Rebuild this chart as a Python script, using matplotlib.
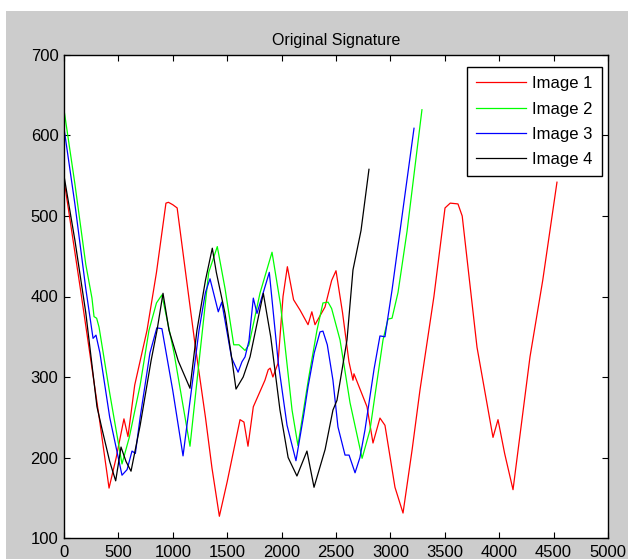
import matplotlib
matplotlib.use("Agg")
import matplotlib.pyplot as plt
from matplotlib.patches import Rectangle

plt.rcParams['font.family'] = ['Liberation Sans', 'DejaVu Sans']

# ---- data ----
img1_x = [0, 150, 322, 414, 480, 551, 588, 650, 763, 850, 937, 960, 1000, 1040, 1127, 1200,
          1300, 1360, 1428, 1500, 1618, 1654, 1691, 1740, 1847, 1877, 1895, 1920, 1967, 2013,
          2053, 2110, 2170, 2243, 2278, 2307, 2399, 2460, 2500, 2560, 2619, 2656, 2665, 2785,
          2840, 2904, 2950, 3042, 3116, 3200, 3272, 3400, 3502, 3550, 3621, 3660, 3796, 3943,
          3989, 4050, 4127, 4283, 4400, 4531]
img1_y = [545, 410, 251, 162, 200, 248, 226, 290, 358, 430, 516, 517, 514, 510, 420, 345,
          250, 187, 127, 170, 247, 244, 214, 263, 296, 309, 311, 300, 317, 400,
          437, 396, 383, 365, 381, 365, 387, 420, 432, 380, 319, 296, 304, 263,
          218, 249, 240, 163, 131, 210, 284, 400, 510, 516, 515, 500, 337, 225,
          247, 205, 160, 325, 420, 542]

img2_x = [0, 100, 200, 257, 276, 300, 322, 420, 533, 600, 700, 781, 850, 900, 1011, 1158,
          1250, 1330, 1409, 1480, 1560, 1608, 1664, 1700, 1801, 1912, 1990, 2096, 2150, 2250,
          2325, 2380, 2427, 2460, 2537, 2629, 2740, 2812, 2932, 2978, 3015, 3070, 3153, 3290]
img2_y = [632, 540, 440, 398, 375, 373, 362, 280, 192, 225, 290, 358, 392, 402, 330, 214,
          330, 430, 462, 410, 340, 340, 333, 340, 404, 455, 390, 259, 215, 300,
          358, 392, 393, 385, 346, 268, 199, 234, 346, 372, 373, 405, 481, 632]

img3_x = [0, 100, 200, 267, 294, 330, 420, 533, 580, 625, 656, 700, 790, 853, 900, 1000,
          1094, 1241, 1300, 1342, 1418, 1450, 1540, 1600, 1636, 1664, 1700, 1740, 1774, 1887,
          1970, 2050, 2132, 2200, 2243, 2300, 2353, 2380, 2420, 2472, 2518, 2583, 2620, 2675,
          2720, 2766, 2850, 2904, 2950, 3015, 3088, 3217]
img3_y = [609, 515, 410, 348, 352, 330, 250, 178, 185, 208, 205, 250, 330, 361, 360, 283,
          202, 358, 405, 422, 381, 393, 324, 306, 319, 325, 345, 398, 379, 430,
          317, 240, 196, 250, 288, 330, 356, 357, 340, 296, 238, 203, 203, 181,
          200, 234, 310, 351, 350, 408, 481, 609]

img4_x = [0, 100, 200, 303, 350, 420, 475, 524, 570, 616, 700, 800, 855, 910, 965, 1050,
          1158, 1222, 1300, 1363, 1400, 1480, 1541, 1581, 1647, 1710, 1832, 1900, 1985, 2060,
          2141, 2233, 2298, 2400, 2472, 2509, 2601, 2656, 2730, 2803]
img4_y = [550, 470, 380, 263, 235, 195, 171, 213, 195, 183, 240, 320, 358, 404, 358, 320,
          286, 358, 420, 460, 430, 379, 324, 285, 300, 325, 404, 350, 259, 200,
          177, 208, 163, 210, 259, 271, 346, 433, 482, 558]

series = [("Image 1", img1_x, img1_y, "#ff0000"),
          ("Image 2", img2_x, img2_y, "#00ff00"),
          ("Image 3", img3_x, img3_y, "#0000ff"),
          ("Image 4", img4_x, img4_y, "#000000")]

x_ticks = [0, 500, 1000, 1500, 2000, 2500, 3000, 3500, 4000, 4500, 5000]
y_ticks = [100, 200, 300, 400, 500, 600, 700]
title = "Original Signature"

# ---- figure ----
W, H = 628, 559
fig = plt.figure(figsize=(W / 100, H / 100), dpi=100, facecolor="white")
fig.patches.append(Rectangle((6 / W, 0), 1, 1 - 11 / H, transform=fig.transFigure,
                             facecolor="#cccccc", edgecolor="none", zorder=-10))

ax = fig.add_axes([64 / W, 1 - 538 / H, 544 / W, 483 / H])
ax.set_facecolor("white")

for name, xs, ys, col in series:
    ax.plot(xs, ys, color=col, lw=0.9, label=name)

ax.set_xlim(0, 5000)
ax.set_ylim(100, 700)
ax.set_xticks(x_ticks)
ax.set_yticks(y_ticks)
ax.tick_params(direction="in", top=True, right=True, length=4, width=0.8,
               labelsize=12, colors="black")
ax.tick_params(axis="x", pad=5)
ax.tick_params(axis="y", pad=4)
for s in ax.spines.values():
    s.set_linewidth(1.0)
    s.set_color("black")

ax.set_title(title, fontsize=11.5, pad=7)

leg = ax.legend(loc="upper right", bbox_to_anchor=(0.989, 0.975), borderaxespad=0,
                fancybox=False, frameon=True, fontsize=12, handlelength=3.0,
                labelspacing=0.62, borderpad=0.55, handletextpad=0.4)
leg.get_frame().set_edgecolor("black")
leg.get_frame().set_linewidth(1.0)
leg.get_frame().set_alpha(1)

fig.savefig("out.png", dpi=100, facecolor=fig.get_facecolor())
